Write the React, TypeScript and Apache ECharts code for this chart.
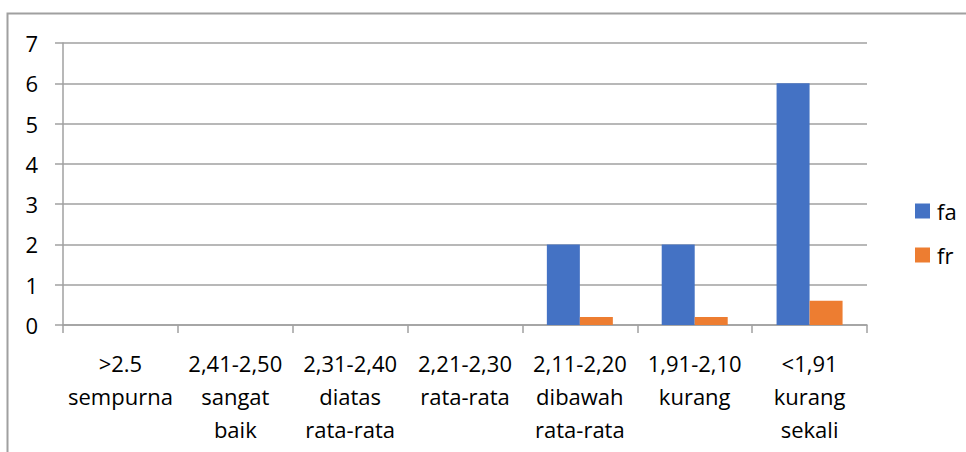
import React, { useEffect, useRef } from "react";
import * as echarts from "echarts";

const categories = [
  ">2.5\nsempurna",
  "2,41-2,50\nsangat\nbaik",
  "2,31-2,40\ndiatas\nrata-rata",
  "2,21-2,30\nrata-rata",
  "2,11-2,20\ndibawah\nrata-rata",
  "1,91-2,10\nkurang",
  "<1,91\nkurang\nsekali",
];
const faValues = [0, 0, 0, 0, 2, 2, 6];
const frValues = [0, 0, 0, 0, 0.2, 0.2, 0.6];
const seriesNames = ["fa", "fr"];

const FONT = "'Open Sans', sans-serif";

export default function App() {
  const ref = useRef<HTMLDivElement>(null);
  useEffect(() => {
    if (!ref.current) return;
    const chart = echarts.init(ref.current, null, { renderer: "svg" });
    chart.setOption({
      animation: false,
      backgroundColor: "#ffffff",
      textStyle: { fontFamily: FONT },
      graphic: [
        {
          type: "rect",
          shape: { x: 7.5, y: 13.5, width: 1100, height: 600 },
          style: { fill: "none", stroke: "#a0a0a0", lineWidth: 2 },
          silent: true,
        },
      ],
      grid: { left: 63, right: 99, top: 43, bottom: 127, containLabel: false },
      legend: {
        orient: "vertical",
        left: 910,
        top: 195,
        itemWidth: 15,
        itemHeight: 15,
        itemGap: 22,
        icon: "rect",
        textStyle: { fontFamily: FONT, fontSize: 22, color: "#000", padding: [0, 0, 0, 2] },
        data: seriesNames,
      },
      xAxis: {
        type: "category",
        data: categories,
        axisLine: { lineStyle: { color: "#a0a0a0", width: 1.5 } },
        axisTick: { show: true, length: 8, alignWithLabel: false, lineStyle: { color: "#a0a0a0", width: 1.5 } },
        axisLabel: {
          interval: 0,
          margin: 21,
          fontFamily: FONT,
          fontSize: 22,
          lineHeight: 33,
          color: "#000",
          align: "center",
        },
      },
      yAxis: {
        type: "value",
        min: 0,
        max: 7,
        interval: 1,
        axisLine: { show: true, lineStyle: { color: "#a0a0a0", width: 1.5 } },
        axisTick: { show: true, length: 8, lineStyle: { color: "#a0a0a0", width: 1.5 } },
        splitLine: { lineStyle: { color: "#a0a0a0", width: 1.5 } },
        axisLabel: { margin: 25, fontFamily: FONT, fontSize: 22, color: "#000" },
      },
      series: [
        {
          name: seriesNames[0],
          type: "bar",
          data: faValues,
          barWidth: 33,
          barGap: "0%",
          itemStyle: { color: "#4472C4" },
        },
        {
          name: seriesNames[1],
          type: "bar",
          data: frValues,
          barWidth: 33,
          barGap: "0%",
          itemStyle: { color: "#ED7D31" },
        },
      ],
    });
    return () => chart.dispose();
  }, []);
  return (
    <div
      ref={ref}
      style={{ position: "absolute", left: 0, top: 0, width: 966, height: 452 }}
    />
  );
}
